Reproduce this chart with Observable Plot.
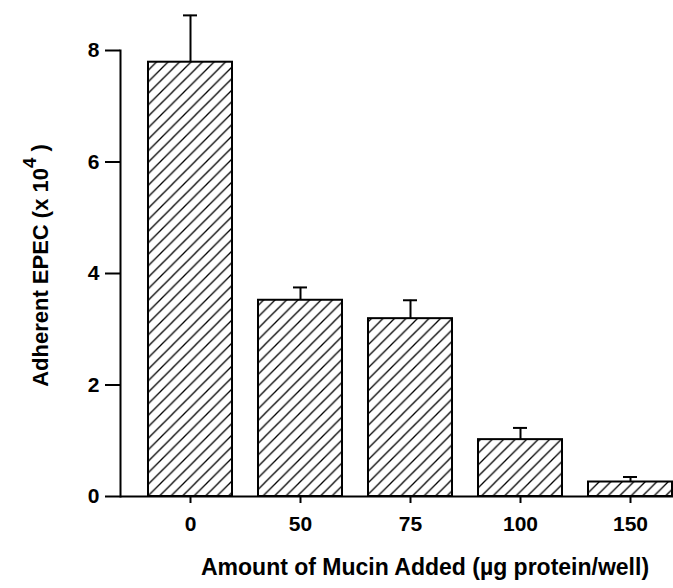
<!DOCTYPE html>
<html>
<head>
<meta charset="utf-8">
<script src="https://cdn.jsdelivr.net/npm/d3@7"></script>
<script src="https://cdn.jsdelivr.net/npm/@observablehq/plot@0.6"></script>
<style>
  html, body { margin: 0; padding: 0; background: white; }
  #defs { position: absolute; width: 0; height: 0; }
</style>
</head>
<body>
<svg id="defs" aria-hidden="true">
  <defs>
    <pattern id="hatch" patternUnits="userSpaceOnUse" width="11.5" height="11.5">
      <rect width="11.5" height="11.5" fill="white"/>
      <path d="M0,11.5 L11.5,0 M-1,1 L1,-1 M10.5,12.5 L12.5,10.5" stroke="black" stroke-width="1.3"/>
    </pattern>
  </defs>
</svg>
<div id="chart"></div>
<script>
const doses = ["0", "50", "75", "100", "150"];
const means = [7.79, 3.52, 3.19, 1.02, 0.26];
const errs = [0.84, 0.23, 0.33, 0.21, 0.09];
const yTicks = [0, 2, 4, 6, 8];
const yTitleParts = ["Adherent EPEC (x 10", "4", " )"];
const xTitle = "Amount of Mucin Added (\u00b5g protein/well)";

const yTitle = yTitleParts.join("");
const data = doses.map((d, i) => ({dose: d, mean: means[i], hi: means[i] + errs[i]}));

const chart = Plot.plot({
  width: 673,
  height: 588,
  marginLeft: 120,
  marginRight: 0,
  marginTop: 50,
  marginBottom: 92,
  style: {fontFamily: "'Liberation Sans', Arial, sans-serif", fontWeight: "bold", fontSize: "21px", color: "black", background: "white"},
  x: {domain: doses, range: [134, 685], paddingInner: 0.24, paddingOuter: 0.12, label: null},
  y: {domain: [0, 8], label: null},
  marks: [
    Plot.barY(data, {x: "dose", y: "mean", fill: "url(#hatch)", stroke: "black", strokeWidth: 2}),
    Plot.ruleX(data, {x: "dose", y1: "mean", y2: "hi", stroke: "black", strokeWidth: 2}),
    Plot.tickY(data, {x: "dose", y: "hi", stroke: "black", strokeWidth: 2, insetLeft: 35, insetRight: 35}),
    Plot.ruleY([0], {stroke: "black", strokeWidth: 2}),
    Plot.frame({anchor: "left", stroke: "black", strokeWidth: 2}),
    Plot.axisY({ticks: yTicks, tickSize: 15, tickPadding: 6, label: null, strokeWidth: 2, fontSize: 21}),
    Plot.axisX({tickSize: 7, tickPadding: 13, label: null, strokeWidth: 2, fontSize: 21}),
    Plot.text([yTitle], {frameAnchor: "left", rotate: -90, dx: -80, dy: -8, lineAnchor: "middle", textAnchor: "middle", fontSize: 22, fontWeight: "bold"}),
    Plot.text([xTitle], {frameAnchor: "bottom", dx: 28, dy: 71, lineAnchor: "middle", textAnchor: "middle", fontSize: 23, fontWeight: "bold"})
  ]
});

d3.select(chart).selectAll("text").filter(function () { return this.textContent === yTitle; })
  .each(function () {
    const t = d3.select(this);
    t.text(null);
    t.append("tspan").text(yTitleParts[0]);
    t.append("tspan").attr("dy", "-0.6em").attr("font-size", "0.85em").text(yTitleParts[1]);
    t.append("tspan").attr("dy", "0.5em").text(yTitleParts[2]);
  });

document.getElementById("chart").appendChild(chart);
</script>
</body>
</html>
